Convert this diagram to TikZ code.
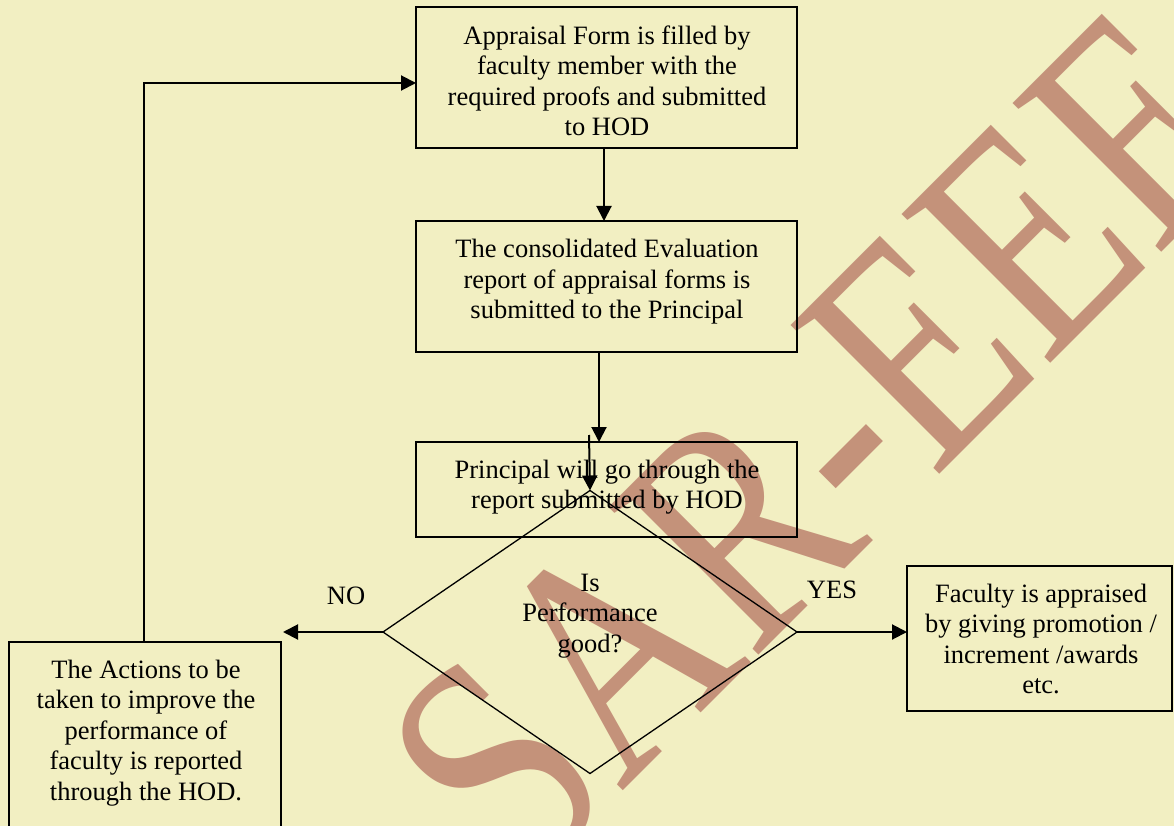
\documentclass[tikz,border=0pt]{standalone}
\usepackage{fontspec}
\setmainfont{Liberation Serif}
\usetikzlibrary{shapes.geometric,arrows.meta}
\definecolor{paper}{RGB}{242,239,194}
\definecolor{stamp}{RGB}{196,146,122}
\begin{document}
\begin{tikzpicture}[x=1pt,y=-1pt,
  flowbox/.style={draw=black,line width=1.7pt,inner sep=0pt,outer sep=0pt},
  txt/.style={align=center,inner sep=0pt,font=\fontsize{26.5}{30.5}\selectfont},
  flow/.style={line width=2pt,-{Triangle[length=15pt,width=15pt]}}]
  % page
  \fill[paper] (0,0) rectangle (1174,826);
  \useasboundingbox (0,0) rectangle (1174,826);
  \clip (0,0) rectangle (1174,826);

  % watermark, tall lettering set on the diagonal
  \begin{scope}[shift={(820,446)},rotate=45,yscale=1.25]
    \node[transform shape,text=stamp,inner sep=0pt,font=\fontsize{257}{257}\selectfont] (wm) at (0,0) {SAR-EEE};
  \end{scope}

  % boxes
  \node[flowbox,minimum width=381pt,minimum height=141pt] (b1) at (606.5,77.5) {};
  \node[flowbox,minimum width=381pt,minimum height=131pt] (b2) at (606.5,286.5) {};
  \node[flowbox,line width=1.3pt,minimum width=381pt,minimum height=95pt] (b3) at (606.5,489.5) {};
  \node[diamond,draw=black,line width=1.3pt,inner sep=0pt,outer sep=0pt,
        minimum width=414pt,minimum height=283pt] (dia) at (590,632) {};
  \node[flowbox,minimum width=265pt,minimum height=145pt] (b4) at (1039.5,638.5) {};
  \node[flowbox,minimum width=272pt,minimum height=200pt] (lb) at (145,742) {};

  % texts
  \node[txt] (t1) at (607,81) {Appraisal Form is filled by\\faculty member with the\\required proofs and submitted\\to HOD};
  \node[txt] (t2) at (607,282) {The consolidated Evaluation\\report of appraisal forms is\\submitted to the Principal};
  \node[txt] (t3) at (607,487) {Principal will go through the\\report submitted by HOD};
  \node[txt] (t4) at (590,616) {Is\\Performance\\good?};
  \node[txt] (t5) at (1041,639) {Faculty is appraised\\by giving promotion /\\increment /awards\\etc.};
  \node[txt] (t6) at (146,733) {The Actions to be\\taken to improve the\\performance of\\faculty is reported\\through the HOD.};
  \node[txt] (no) at (346,596) {NO};
  \node[txt] (yes) at (832,590) {YES};

  % connectors
  \coordinate (c3) at (589,435);
  \coordinate (noend) at (283,632);
  \coordinate (fb) at (144,83);
  \draw[flow] ([xshift=-2.5pt]b1.south) -- ([xshift=-2.5pt]b2.north);
  \draw[flow] ([xshift=-7.5pt]b2.south) -- ([xshift=-7.5pt]b3.north);
  \draw[flow] (c3) -- (dia.north);
  \draw[flow] (dia.west) -- (noend);
  \draw[flow] (dia.east) -- (dia.east -| b4.west);
  \draw[flow] (lb.north -| fb) |- (b1.west |- fb);
\end{tikzpicture}
\end{document}
